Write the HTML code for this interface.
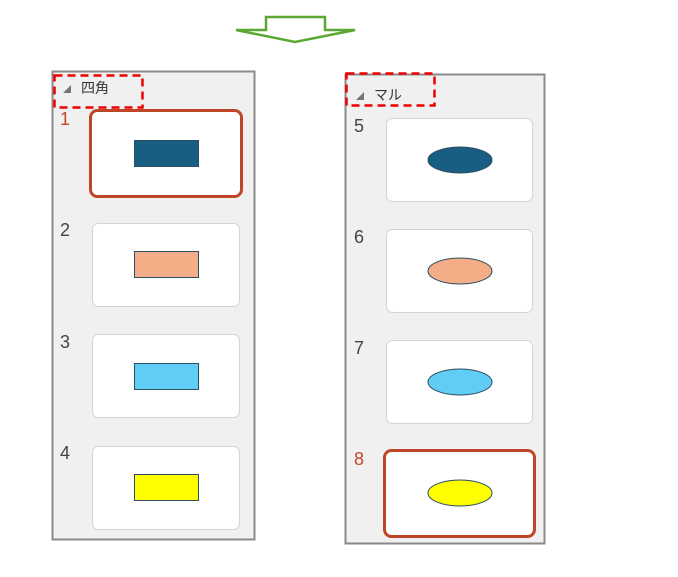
<!DOCTYPE html>
<html><head><meta charset="utf-8"><style>body{margin:0;background:#fff}svg{display:block}</style></head><body>
<svg width="678" height="577" xmlns="http://www.w3.org/2000/svg" font-family="Liberation Sans, Noto Sans CJK JP, sans-serif">
<path d="M266,17 H325 V30 H355 L295,42 L236,30 H266 Z" fill="#fff" stroke="#5aa832" stroke-width="2.5" stroke-linejoin="miter"/>
<rect x="52.5" y="71.5" width="202" height="468" fill="#f0f0f0" stroke="#8a8a8a" stroke-width="2"/>
<rect x="345.5" y="74.5" width="199" height="469" fill="#f0f0f0" stroke="#8a8a8a" stroke-width="2"/>
<rect x="54.5" y="75.5" width="88" height="32" fill="none" stroke="#e00" stroke-width="2.5" stroke-dasharray="8,5"/>
<rect x="346.5" y="73.5" width="88" height="32" fill="none" stroke="#e00" stroke-width="2.5" stroke-dasharray="8,5"/>
<path d="M63,93 L71,85 V93 Z" fill="#777"/>
<text x="81" y="93" font-size="14" fill="#333">四角</text>
<path d="M356,100 L364,92 V100 Z" fill="#777"/>
<text x="374" y="100" font-size="14" fill="#333">マル</text>
<g font-size="18">
<text x="60" y="125" fill="#c8452a">1</text>
<text x="60" y="236" fill="#444">2</text>
<text x="60" y="348" fill="#444">3</text>
<text x="60" y="459" fill="#444">4</text>
<text x="354" y="132" fill="#444">5</text>
<text x="354" y="243" fill="#444">6</text>
<text x="354" y="354" fill="#444">7</text>
<text x="354" y="465" fill="#c8452a">8</text>
</g>
<rect x="90.5" y="110.5" width="151" height="86" rx="7" fill="#fff" stroke="#bf4527" stroke-width="3"/>
<rect x="92.5" y="223.5" width="147" height="83" rx="6" fill="#fff" stroke="#d4d4d4"/>
<rect x="92.5" y="334.5" width="147" height="83" rx="6" fill="#fff" stroke="#d4d4d4"/>
<rect x="92.5" y="446.5" width="147" height="83" rx="6" fill="#fff" stroke="#d4d4d4"/>
<g stroke="#2d4d60" stroke-width="1">
<rect x="134.5" y="140.5" width="64" height="26" fill="#175e82"/>
<rect x="134.5" y="251.5" width="64" height="26" fill="#f4ae87"/>
<rect x="134.5" y="363.5" width="64" height="26" fill="#5fcdf5"/>
<rect x="134.5" y="474.5" width="64" height="26" fill="#ffff00"/>
</g>
<rect x="386.5" y="118.5" width="146" height="83" rx="6" fill="#fff" stroke="#d4d4d4"/>
<rect x="386.5" y="229.5" width="146" height="83" rx="6" fill="#fff" stroke="#d4d4d4"/>
<rect x="386.5" y="340.5" width="146" height="83" rx="6" fill="#fff" stroke="#d4d4d4"/>
<rect x="384.5" y="450.5" width="150" height="86" rx="7" fill="#fff" stroke="#bf4527" stroke-width="3"/>
<g stroke="#2d4d60" stroke-width="1">
<ellipse cx="460" cy="160" rx="32" ry="13" fill="#175e82"/>
<ellipse cx="460" cy="271" rx="32" ry="13" fill="#f4ae87"/>
<ellipse cx="460" cy="382" rx="32" ry="13" fill="#5fcdf5"/>
<ellipse cx="460" cy="493" rx="32" ry="13" fill="#ffff00"/>
</g>
</svg>
</body></html>
